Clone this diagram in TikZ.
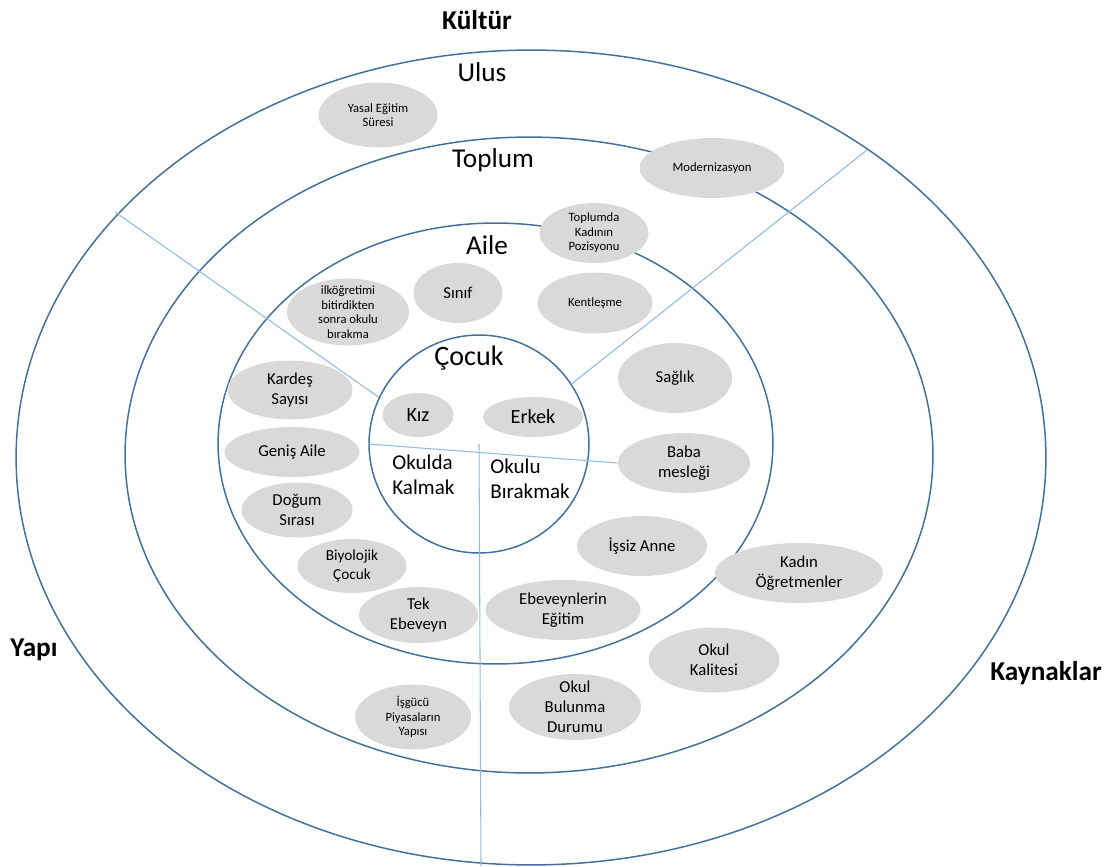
\documentclass[tikz,border=0pt]{standalone}
\usepackage{fontspec}
\setmainfont{Carlito}
\usepackage{tikz}
\usetikzlibrary{shapes.geometric, positioning}
\definecolor{RingBlue}{RGB}{65,113,156}
\definecolor{DivBlue}{RGB}{143,186,226}
\definecolor{BlobGray}{RGB}{217,217,217}

\begin{document}
\begin{tikzpicture}[x=0.02cm,y=-0.02cm,
    ring/.style={ellipse,draw=RingBlue,line width=0.85pt,inner sep=0pt},
    div/.style={DivBlue,line width=0.6pt},
    blob/.style={ellipse,fill=BlobGray,inner xsep=0pt,inner ysep=-3pt,align=center,
                 font=\fontsize{9.5}{11.4}\selectfont},
    sm/.style={font=\fontsize{7.2}{8.3}\selectfont},
    kid/.style={font=\fontsize{11.5}{13.8}\selectfont},
    lbl/.style={font=\fontsize{15.5}{18}\selectfont,inner sep=0pt},
    side/.style={font=\fontsize{15.5}{18}\selectfont\bfseries,inner sep=0pt}
  ]
  \useasboundingbox (0,0) rectangle (1111,866);

  % rings
  \node[ring,minimum width=20.6cm,minimum height=16.3cm] (ulus) at (531,457.5) {};
  \node[ring,minimum width=16.16cm,minimum height=12.72cm] (toplum) at (529,455) {};
  \node[ring,minimum width=11.1cm,minimum height=8.82cm] (aile) at (495.5,443.5) {};
  \node[ring,minimum width=4.4cm,minimum height=4.36cm] (cocuk) at (479,444) {};

  % layer titles
  \node[side] (kultur) at (477,20) {Kültür};
  \node[lbl] (ulusT) at (482,72) {Ulus};
  \node[lbl] (toplumT) at (493,160) {Toplum};
  \node[lbl] (aileT) at (487,245) {Aile};
  \node[font=\fontsize{16}{19}\selectfont,inner sep=0pt] (cocukT) at (469,358) {Çocuk};
  \node[side] (yapi) at (34,650) {Yapı};
  \node[side] (kaynak) at (1046,673) {Kaynaklar};

  % factors
  \node[blob,sm,minimum width=2.38cm,minimum height=1.3cm] (yasal) at (378,115) {Yasal Eğitim\\Süresi};
  \node[blob,sm,minimum width=2.9cm,minimum height=1.2cm] (modern) at (712,168) {Modernizasyon};
  \node[blob,sm,minimum width=2.18cm,minimum height=1.2cm] (kadinpoz) at (594,233) {Toplumda\\Kadının\\Pozisyonu};
  \node[blob,sm,minimum width=2.3cm,minimum height=1.22cm] (kent) at (595,303) {Kentleşme};
  \node[blob,minimum width=1.78cm,minimum height=1.2cm] (sinif) at (458,293) {Sınıf};
  \node[blob,sm,minimum width=2.44cm,minimum height=1.34cm] (ilk) at (348,312) {ilköğretimi\\bitirdikten\\sonra okulu\\bırakma};
  \node[blob,minimum width=2.5cm,minimum height=1.18cm] (kardes) at (290,390) {Kardeş\\Sayısı};
  \node[blob,minimum width=2.7cm,minimum height=1.0cm] (genis) at (292,452) {Geniş Aile};
  \node[blob,minimum width=2.22cm,minimum height=1.1cm] (dogum) at (297,510) {Doğum\\Sırası};
  \node[blob,font=\fontsize{8.7}{10.6}\selectfont,minimum width=2.18cm,minimum height=1.08cm] (biyo) at (352,566) {Biyolojik\\Çocuk};
  \node[blob,minimum width=2.38cm,minimum height=1.12cm] (tek) at (418.5,615) {Tek\\Ebeveyn};
  \node[blob,kid,minimum width=1.42cm,minimum height=0.88cm] (kiz) at (418,415) {Kız};
  \node[blob,kid,minimum width=2.0cm,minimum height=0.8cm] (erkek) at (533,417) {Erkek};
  \node[blob,minimum width=2.28cm,minimum height=1.4cm] (saglik) at (675,378) {Sağlık};
  \node[blob,minimum width=2.64cm,minimum height=1.2cm] (baba) at (684,463) {Baba\\mesleği};
  \node[blob,minimum width=2.6cm,minimum height=1.2cm] (issiz) at (642,546) {İşsiz Anne};
  \node[blob,minimum width=3.36cm,minimum height=1.2cm] (ogretmen) at (799,573) {Kadın\\Öğretmenler};
  \node[blob,minimum width=3.1cm,minimum height=1.2cm] (egitim) at (563,610) {Ebeveynlerin\\Eğitim};
  \node[blob,minimum width=2.62cm,minimum height=1.3cm] (kalite) at (714,660) {Okul\\Kalitesi};
  \node[blob,minimum width=2.64cm,minimum height=1.32cm] (bulunma) at (575,707) {Okul\\Bulunma\\Durumu};
  \node[blob,sm,minimum width=2.32cm,minimum height=1.3cm] (isgucu) at (413,717) {İşgücü\\Piyasaların\\Yapısı};

  % outcomes
  \node[kid,font=\fontsize{12}{14.5}\selectfont,align=left,anchor=west,inner sep=0pt] (kalmak) at (392,475) {Okulda\\Kalmak};
  \node[kid,font=\fontsize{12}{14.5}\selectfont,align=left,anchor=west,inner sep=0pt] (birakmak) at (490,479) {Okulu\\Bırakmak};

  % dividers
  \coordinate (ulend) at (115,212);
  \coordinate (urend) at (867,150);
  \coordinate (dnend) at (481,866);
  \draw[div] (cocuk.155) -- (ulend);
  \draw[div] (cocuk.33) -- (urend);
  \draw[div] (cocuk.west) -- (baba.west);
  \draw[div] (cocuk.center) -- (dnend);
\end{tikzpicture}
\end{document}
